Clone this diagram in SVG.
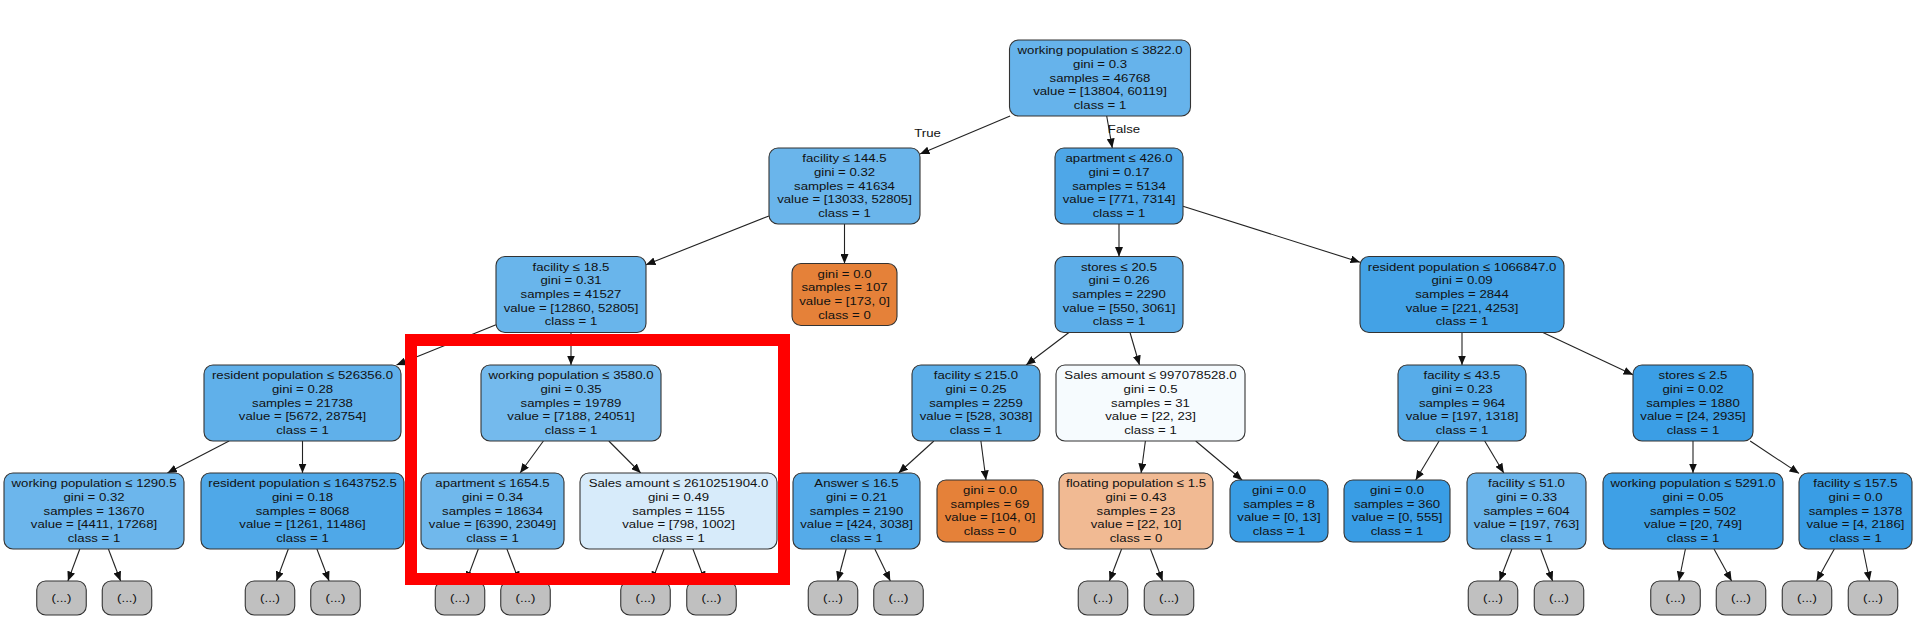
<svg xmlns="http://www.w3.org/2000/svg" width="1916" height="624" viewBox="0 0 1916 624">
<defs>
<style>
.node rect{stroke:#333;stroke-width:1.1}
.node text{font-family:"Liberation Sans",Arial,sans-serif;font-size:11.7px;fill:#111;text-anchor:middle}
.g rect{fill:#c0c0c0}
.lbl{font-family:"Liberation Sans",Arial,sans-serif;font-size:11.7px;fill:#111;text-anchor:middle}
#edges line{stroke:#222;stroke-width:1.1;marker-end:url(#arr)}
</style>
<marker id="arr" markerWidth="10" markerHeight="8" refX="9.5" refY="4" orient="auto" markerUnits="userSpaceOnUse"><path d="M0,0 L9.5,4 L0,8 z" fill="#111"/></marker>
</defs>
<rect width="1916" height="624" fill="#fff"/>
<g id="edges">
<line x1="1010.1" y1="116" x2="920" y2="154.1"/>
<line x1="1106.7" y1="116" x2="1112.3" y2="148"/>
<line x1="769" y1="215.9" x2="646" y2="264.75"/>
<line x1="844.5" y1="224" x2="844.5" y2="263.5"/>
<line x1="1119" y1="224" x2="1119" y2="256.5"/>
<line x1="1183" y1="206.2" x2="1360" y2="262.2"/>
<line x1="496" y1="324.8" x2="396.5" y2="365"/>
<line x1="571" y1="332.5" x2="571" y2="365"/>
<line x1="1068.9" y1="332.5" x2="1026.1" y2="365"/>
<line x1="1130" y1="332.5" x2="1139.5" y2="365"/>
<line x1="1462" y1="332.5" x2="1462" y2="365"/>
<line x1="1542.9" y1="332.5" x2="1633" y2="374.8"/>
<line x1="229.1" y1="441" x2="167.4" y2="473"/>
<line x1="302.5" y1="441" x2="302.5" y2="473"/>
<line x1="543.4" y1="441" x2="520.1" y2="473"/>
<line x1="608.8" y1="441" x2="640.7" y2="473"/>
<line x1="933.9" y1="441" x2="898.6" y2="473"/>
<line x1="980.9" y1="441" x2="986" y2="480"/>
<line x1="1145.4" y1="441" x2="1141.1" y2="473"/>
<line x1="1195.7" y1="441" x2="1242.1" y2="480"/>
<line x1="1439.1" y1="441" x2="1415.7" y2="480"/>
<line x1="1484.7" y1="441" x2="1503.8" y2="473"/>
<line x1="1693" y1="441" x2="1693" y2="473"/>
<line x1="1750.2" y1="441" x2="1799" y2="473.4"/>
<line x1="79.8" y1="549" x2="67.9" y2="581"/>
<line x1="108.4" y1="549" x2="120.6" y2="581"/>
<line x1="288.3" y1="549" x2="276.4" y2="581"/>
<line x1="316.9" y1="549" x2="329.1" y2="581"/>
<line x1="478.3" y1="549" x2="466.4" y2="581"/>
<line x1="506.9" y1="549" x2="519.1" y2="581"/>
<line x1="664.1" y1="549" x2="652" y2="581"/>
<line x1="692.9" y1="549" x2="705" y2="581"/>
<line x1="846.2" y1="549" x2="837.6" y2="581"/>
<line x1="874.8" y1="549" x2="890.3" y2="581"/>
<line x1="1121.6" y1="549" x2="1109.4" y2="581"/>
<line x1="1150.4" y1="549" x2="1162.6" y2="581"/>
<line x1="1511.9" y1="549" x2="1499.5" y2="581"/>
<line x1="1540.7" y1="549" x2="1552.6" y2="581"/>
<line x1="1685.4" y1="549" x2="1678.9" y2="581"/>
<line x1="1714" y1="549" x2="1731.6" y2="581"/>
<line x1="1834.3" y1="549" x2="1816.5" y2="581"/>
<line x1="1863.1" y1="549" x2="1869.6" y2="581"/>
<text class="lbl" transform="translate(927.5,0) scale(1.128,1)" x="0" y="136.9">True</text>
<text class="lbl" transform="translate(1124,0) scale(1.128,1)" x="0" y="132.9">False</text>
</g>

<g id="node0" class="node"><rect x="1009.5" y="40" width="181" height="76" rx="9" fill="#66b3eb"/>
<text transform="translate(1100,0) scale(1.128,1)"><tspan x="0" y="54.3">working population ≤ 3822.0</tspan><tspan x="0" y="68">gini = 0.3</tspan><tspan x="0" y="81.6">samples = 46768</tspan><tspan x="0" y="95.3">value = [13804, 60119]</tspan><tspan x="0" y="108.9">class = 1</tspan></text></g>

<g id="node1" class="node"><rect x="769" y="148" width="151" height="76" rx="9" fill="#6ab5eb"/>
<text transform="translate(844.5,0) scale(1.128,1)"><tspan x="0" y="162.3">facility ≤ 144.5</tspan><tspan x="0" y="176">gini = 0.32</tspan><tspan x="0" y="189.6">samples = 41634</tspan><tspan x="0" y="203.3">value = [13033, 52805]</tspan><tspan x="0" y="216.9">class = 1</tspan></text></g>

<g id="node2" class="node"><rect x="1055" y="148" width="128" height="76" rx="9" fill="#4ea7e8"/>
<text transform="translate(1119,0) scale(1.128,1)"><tspan x="0" y="162.3">apartment ≤ 426.0</tspan><tspan x="0" y="176">gini = 0.17</tspan><tspan x="0" y="189.6">samples = 5134</tspan><tspan x="0" y="203.3">value = [771, 7314]</tspan><tspan x="0" y="216.9">class = 1</tspan></text></g>

<g id="node3" class="node"><rect x="496" y="256.5" width="150" height="76" rx="9" fill="#69b5eb"/>
<text transform="translate(571,0) scale(1.128,1)"><tspan x="0" y="270.8">facility ≤ 18.5</tspan><tspan x="0" y="284.5">gini = 0.31</tspan><tspan x="0" y="298.1">samples = 41527</tspan><tspan x="0" y="311.8">value = [12860, 52805]</tspan><tspan x="0" y="325.4">class = 1</tspan></text></g>

<g id="node4" class="node"><rect x="792" y="263.5" width="105" height="62" rx="9" fill="#e58139"/>
<text transform="translate(844.5,0) scale(1.128,1)"><tspan x="0" y="277.6">gini = 0.0</tspan><tspan x="0" y="291.3">samples = 107</tspan><tspan x="0" y="304.9">value = [173, 0]</tspan><tspan x="0" y="318.6">class = 0</tspan></text></g>

<g id="node5" class="node"><rect x="1055" y="256.5" width="128" height="76" rx="9" fill="#5daee9"/>
<text transform="translate(1119,0) scale(1.128,1)"><tspan x="0" y="270.8">stores ≤ 20.5</tspan><tspan x="0" y="284.5">gini = 0.26</tspan><tspan x="0" y="298.1">samples = 2290</tspan><tspan x="0" y="311.8">value = [550, 3061]</tspan><tspan x="0" y="325.4">class = 1</tspan></text></g>

<g id="node6" class="node"><rect x="1360" y="256.5" width="204" height="76" rx="9" fill="#43a2e6"/>
<text transform="translate(1462,0) scale(1.128,1)"><tspan x="0" y="270.8">resident population ≤ 1066847.0</tspan><tspan x="0" y="284.5">gini = 0.09</tspan><tspan x="0" y="298.1">samples = 2844</tspan><tspan x="0" y="311.8">value = [221, 4253]</tspan><tspan x="0" y="325.4">class = 1</tspan></text></g>

<g id="node7" class="node"><rect x="204" y="365" width="197" height="76" rx="9" fill="#60b0ea"/>
<text transform="translate(302.5,0) scale(1.128,1)"><tspan x="0" y="379.3">resident population ≤ 526356.0</tspan><tspan x="0" y="393">gini = 0.28</tspan><tspan x="0" y="406.6">samples = 21738</tspan><tspan x="0" y="420.3">value = [5672, 28754]</tspan><tspan x="0" y="433.9">class = 1</tspan></text></g>

<g id="node8" class="node"><rect x="481" y="365" width="180" height="76" rx="9" fill="#74baed"/>
<text transform="translate(571,0) scale(1.128,1)"><tspan x="0" y="379.3">working population ≤ 3580.0</tspan><tspan x="0" y="393">gini = 0.35</tspan><tspan x="0" y="406.6">samples = 19789</tspan><tspan x="0" y="420.3">value = [7188, 24051]</tspan><tspan x="0" y="433.9">class = 1</tspan></text></g>

<g id="node9" class="node"><rect x="912" y="365" width="128" height="76" rx="9" fill="#5baee9"/>
<text transform="translate(976,0) scale(1.128,1)"><tspan x="0" y="379.3">facility ≤ 215.0</tspan><tspan x="0" y="393">gini = 0.25</tspan><tspan x="0" y="406.6">samples = 2259</tspan><tspan x="0" y="420.3">value = [528, 3038]</tspan><tspan x="0" y="433.9">class = 1</tspan></text></g>

<g id="node10" class="node"><rect x="1056" y="365" width="189" height="76" rx="9" fill="#f6fbfe"/>
<text transform="translate(1150.5,0) scale(1.128,1)"><tspan x="0" y="379.3">Sales amount ≤ 997078528.0</tspan><tspan x="0" y="393">gini = 0.5</tspan><tspan x="0" y="406.6">samples = 31</tspan><tspan x="0" y="420.3">value = [22, 23]</tspan><tspan x="0" y="433.9">class = 1</tspan></text></g>

<g id="node11" class="node"><rect x="1398" y="365" width="128" height="76" rx="9" fill="#57ace9"/>
<text transform="translate(1462,0) scale(1.128,1)"><tspan x="0" y="379.3">facility ≤ 43.5</tspan><tspan x="0" y="393">gini = 0.23</tspan><tspan x="0" y="406.6">samples = 964</tspan><tspan x="0" y="420.3">value = [197, 1318]</tspan><tspan x="0" y="433.9">class = 1</tspan></text></g>

<g id="node12" class="node"><rect x="1633" y="365" width="120" height="76" rx="9" fill="#3b9ee5"/>
<text transform="translate(1693,0) scale(1.128,1)"><tspan x="0" y="379.3">stores ≤ 2.5</tspan><tspan x="0" y="393">gini = 0.02</tspan><tspan x="0" y="406.6">samples = 1880</tspan><tspan x="0" y="420.3">value = [24, 2935]</tspan><tspan x="0" y="433.9">class = 1</tspan></text></g>

<g id="node13" class="node"><rect x="4" y="473" width="180" height="76" rx="9" fill="#6cb6ec"/>
<text transform="translate(94,0) scale(1.128,1)"><tspan x="0" y="487.3">working population ≤ 1290.5</tspan><tspan x="0" y="501">gini = 0.32</tspan><tspan x="0" y="514.6">samples = 13670</tspan><tspan x="0" y="528.3">value = [4411, 17268]</tspan><tspan x="0" y="541.9">class = 1</tspan></text></g>

<g id="node14" class="node"><rect x="201" y="473" width="203" height="76" rx="9" fill="#4fa8e8"/>
<text transform="translate(302.5,0) scale(1.128,1)"><tspan x="0" y="487.3">resident population ≤ 1643752.5</tspan><tspan x="0" y="501">gini = 0.18</tspan><tspan x="0" y="514.6">samples = 8068</tspan><tspan x="0" y="528.3">value = [1261, 11486]</tspan><tspan x="0" y="541.9">class = 1</tspan></text></g>

<g id="node15" class="node"><rect x="421" y="473" width="143" height="76" rx="9" fill="#70b8ec"/>
<text transform="translate(492.5,0) scale(1.128,1)"><tspan x="0" y="487.3">apartment ≤ 1654.5</tspan><tspan x="0" y="501">gini = 0.34</tspan><tspan x="0" y="514.6">samples = 18634</tspan><tspan x="0" y="528.3">value = [6390, 23049]</tspan><tspan x="0" y="541.9">class = 1</tspan></text></g>

<g id="node16" class="node"><rect x="580" y="473" width="197" height="76" rx="9" fill="#d7ebfa"/>
<text transform="translate(678.5,0) scale(1.128,1)"><tspan x="0" y="487.3">Sales amount ≤ 2610251904.0</tspan><tspan x="0" y="501">gini = 0.49</tspan><tspan x="0" y="514.6">samples = 1155</tspan><tspan x="0" y="528.3">value = [798, 1002]</tspan><tspan x="0" y="541.9">class = 1</tspan></text></g>

<g id="node17" class="node"><rect x="793" y="473" width="127" height="76" rx="9" fill="#55abe9"/>
<text transform="translate(856.5,0) scale(1.128,1)"><tspan x="0" y="487.3">Answer ≤ 16.5</tspan><tspan x="0" y="501">gini = 0.21</tspan><tspan x="0" y="514.6">samples = 2190</tspan><tspan x="0" y="528.3">value = [424, 3038]</tspan><tspan x="0" y="541.9">class = 1</tspan></text></g>

<g id="node18" class="node"><rect x="937" y="480" width="106" height="62" rx="9" fill="#e58139"/>
<text transform="translate(990,0) scale(1.128,1)"><tspan x="0" y="494.1">gini = 0.0</tspan><tspan x="0" y="507.8">samples = 69</tspan><tspan x="0" y="521.4">value = [104, 0]</tspan><tspan x="0" y="535.1">class = 0</tspan></text></g>

<g id="node19" class="node"><rect x="1059" y="473" width="154" height="76" rx="9" fill="#f1ba93"/>
<text transform="translate(1136,0) scale(1.128,1)"><tspan x="0" y="487.3">floating population ≤ 1.5</tspan><tspan x="0" y="501">gini = 0.43</tspan><tspan x="0" y="514.6">samples = 23</tspan><tspan x="0" y="528.3">value = [22, 10]</tspan><tspan x="0" y="541.9">class = 0</tspan></text></g>

<g id="node20" class="node"><rect x="1230" y="480" width="98" height="62" rx="9" fill="#399de5"/>
<text transform="translate(1279,0) scale(1.128,1)"><tspan x="0" y="494.1">gini = 0.0</tspan><tspan x="0" y="507.8">samples = 8</tspan><tspan x="0" y="521.4">value = [0, 13]</tspan><tspan x="0" y="535.1">class = 1</tspan></text></g>

<g id="node21" class="node"><rect x="1344" y="480" width="106" height="62" rx="9" fill="#399de5"/>
<text transform="translate(1397,0) scale(1.128,1)"><tspan x="0" y="494.1">gini = 0.0</tspan><tspan x="0" y="507.8">samples = 360</tspan><tspan x="0" y="521.4">value = [0, 555]</tspan><tspan x="0" y="535.1">class = 1</tspan></text></g>

<g id="node22" class="node"><rect x="1467" y="473" width="119" height="76" rx="9" fill="#6cb6ec"/>
<text transform="translate(1526.5,0) scale(1.128,1)"><tspan x="0" y="487.3">facility ≤ 51.0</tspan><tspan x="0" y="501">gini = 0.33</tspan><tspan x="0" y="514.6">samples = 604</tspan><tspan x="0" y="528.3">value = [197, 763]</tspan><tspan x="0" y="541.9">class = 1</tspan></text></g>

<g id="node23" class="node"><rect x="1603" y="473" width="180" height="76" rx="9" fill="#3ea0e6"/>
<text transform="translate(1693,0) scale(1.128,1)"><tspan x="0" y="487.3">working population ≤ 5291.0</tspan><tspan x="0" y="501">gini = 0.05</tspan><tspan x="0" y="514.6">samples = 502</tspan><tspan x="0" y="528.3">value = [20, 749]</tspan><tspan x="0" y="541.9">class = 1</tspan></text></g>

<g id="node24" class="node"><rect x="1799" y="473" width="113" height="76" rx="9" fill="#399de5"/>
<text transform="translate(1855.5,0) scale(1.128,1)"><tspan x="0" y="487.3">facility ≤ 157.5</tspan><tspan x="0" y="501">gini = 0.0</tspan><tspan x="0" y="514.6">samples = 1378</tspan><tspan x="0" y="528.3">value = [4, 2186]</tspan><tspan x="0" y="541.9">class = 1</tspan></text></g>

<g id="trunc1" class="node g"><rect x="36.75" y="581" width="49.5" height="34" rx="9"/><text transform="translate(61.5,0) scale(1.128,1)" x="0" y="601.6">(...)</text></g>
<g id="trunc2" class="node g"><rect x="102.25" y="581" width="49.5" height="34" rx="9"/><text transform="translate(127,0) scale(1.128,1)" x="0" y="601.6">(...)</text></g>
<g id="trunc3" class="node g"><rect x="245.25" y="581" width="49.5" height="34" rx="9"/><text transform="translate(270,0) scale(1.128,1)" x="0" y="601.6">(...)</text></g>
<g id="trunc4" class="node g"><rect x="310.75" y="581" width="49.5" height="34" rx="9"/><text transform="translate(335.5,0) scale(1.128,1)" x="0" y="601.6">(...)</text></g>
<g id="trunc5" class="node g"><rect x="435.25" y="581" width="49.5" height="34" rx="9"/><text transform="translate(460,0) scale(1.128,1)" x="0" y="601.6">(...)</text></g>
<g id="trunc6" class="node g"><rect x="500.75" y="581" width="49.5" height="34" rx="9"/><text transform="translate(525.5,0) scale(1.128,1)" x="0" y="601.6">(...)</text></g>
<g id="trunc7" class="node g"><rect x="620.75" y="581" width="49.5" height="34" rx="9"/><text transform="translate(645.5,0) scale(1.128,1)" x="0" y="601.6">(...)</text></g>
<g id="trunc8" class="node g"><rect x="686.75" y="581" width="49.5" height="34" rx="9"/><text transform="translate(711.5,0) scale(1.128,1)" x="0" y="601.6">(...)</text></g>
<g id="trunc9" class="node g"><rect x="808.25" y="581" width="49.5" height="34" rx="9"/><text transform="translate(833,0) scale(1.128,1)" x="0" y="601.6">(...)</text></g>
<g id="trunc10" class="node g"><rect x="873.75" y="581" width="49.5" height="34" rx="9"/><text transform="translate(898.5,0) scale(1.128,1)" x="0" y="601.6">(...)</text></g>
<g id="trunc11" class="node g"><rect x="1078.25" y="581" width="49.5" height="34" rx="9"/><text transform="translate(1103,0) scale(1.128,1)" x="0" y="601.6">(...)</text></g>
<g id="trunc12" class="node g"><rect x="1144.25" y="581" width="49.5" height="34" rx="9"/><text transform="translate(1169,0) scale(1.128,1)" x="0" y="601.6">(...)</text></g>
<g id="trunc13" class="node g"><rect x="1468.25" y="581" width="49.5" height="34" rx="9"/><text transform="translate(1493,0) scale(1.128,1)" x="0" y="601.6">(...)</text></g>
<g id="trunc14" class="node g"><rect x="1534.25" y="581" width="49.5" height="34" rx="9"/><text transform="translate(1559,0) scale(1.128,1)" x="0" y="601.6">(...)</text></g>
<g id="trunc15" class="node g"><rect x="1650.75" y="581" width="49.5" height="34" rx="9"/><text transform="translate(1675.5,0) scale(1.128,1)" x="0" y="601.6">(...)</text></g>
<g id="trunc16" class="node g"><rect x="1716.25" y="581" width="49.5" height="34" rx="9"/><text transform="translate(1741,0) scale(1.128,1)" x="0" y="601.6">(...)</text></g>
<g id="trunc17" class="node g"><rect x="1782.25" y="581" width="49.5" height="34" rx="9"/><text transform="translate(1807,0) scale(1.128,1)" x="0" y="601.6">(...)</text></g>
<g id="trunc18" class="node g"><rect x="1848.25" y="581" width="49.5" height="34" rx="9"/><text transform="translate(1873,0) scale(1.128,1)" x="0" y="601.6">(...)</text></g>

<g id="highlight"><rect x="411" y="340" width="373" height="239" fill="none" stroke="#ff0000" stroke-width="12"/></g>
</svg>
